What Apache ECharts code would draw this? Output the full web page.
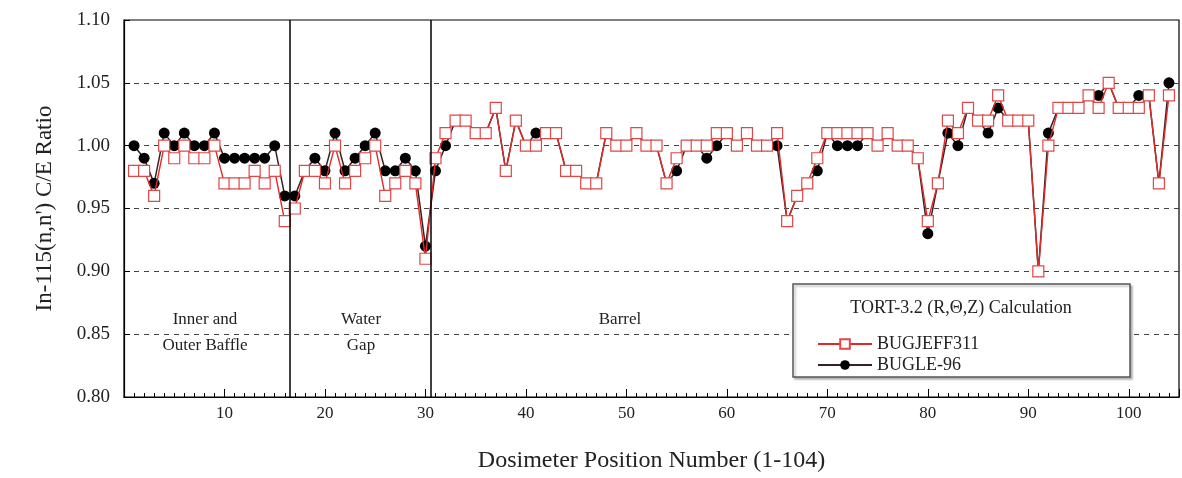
<!DOCTYPE html>
<html>
<head>
<meta charset="utf-8">
<script src="https://cdn.jsdelivr.net/npm/echarts@6/dist/echarts.min.js"></script>
<style>html,body{margin:0;padding:0;background:#fff}#c{width:1182px;height:478px}</style>
</head>
<body>
<div id="c"></div>
<script>
const positions = Array.from({length: 104}, (_, i) => i + 1);
const bugjeff311 = [
  0.98,0.98,0.96,1.00,0.99,1.00,0.99,0.99,1.00,0.97,
  0.97,0.97,0.98,0.97,0.98,0.94,0.95,0.98,0.98,0.97,
  1.00,0.97,0.98,0.99,1.00,0.96,0.97,0.98,0.97,0.91,
  0.99,1.01,1.02,1.02,1.01,1.01,1.03,0.98,1.02,1.00,
  1.00,1.01,1.01,0.98,0.98,0.97,0.97,1.01,1.00,1.00,
  1.01,1.00,1.00,0.97,0.99,1.00,1.00,1.00,1.01,1.01,
  1.00,1.01,1.00,1.00,1.01,0.94,0.96,0.97,0.99,1.01,
  1.01,1.01,1.01,1.01,1.00,1.01,1.00,1.00,0.99,0.94,
  0.97,1.02,1.01,1.03,1.02,1.02,1.04,1.02,1.02,1.02,
  0.90,1.00,1.03,1.03,1.03,1.04,1.03,1.05,1.03,1.03,
  1.03,1.04,0.97,1.04
];
const bugle96 = [
  1.00,0.99,0.97,1.01,1.00,1.01,1.00,1.00,1.01,0.99,
  0.99,0.99,0.99,0.99,1.00,0.96,0.96,0.98,0.99,0.98,
  1.01,0.98,0.99,1.00,1.01,0.98,0.98,0.99,0.98,0.92,
  0.98,1.00,1.02,1.02,1.01,1.01,1.03,0.98,1.02,1.00,
  1.01,1.01,1.01,0.98,0.98,0.97,0.97,1.01,1.00,1.00,
  1.01,1.00,1.00,0.97,0.98,1.00,1.00,0.99,1.00,1.01,
  1.00,1.01,1.00,1.00,1.00,0.94,0.96,0.97,0.98,1.01,
  1.00,1.00,1.00,1.01,1.00,1.01,1.00,1.00,0.99,0.93,
  0.97,1.01,1.00,1.03,1.02,1.01,1.03,1.02,1.02,1.02,
  0.90,1.01,1.03,1.03,1.03,1.04,1.04,1.05,1.03,1.03,
  1.04,1.04,0.97,1.05
];
const regionDividers = [16.5, 30.5];
const seriesNames = ['BUGJEFF311', 'BUGLE-96'];
const legendTitle = 'TORT-3.2 (R,\u0398,Z) Calculation';

const F = 'Liberation Serif';
const chart = echarts.init(document.getElementById('c'));
chart.setOption({
  animation: false,
  backgroundColor: '#fff',
  grid: {left: 124, right: 3, top: 20, bottom: 81, show: true, borderColor: '#000', borderWidth: 1.2},
  xAxis: {
    type: 'value', min: 0, max: 105, interval: 10,
    name: 'Dosimeter Position Number (1-104)', nameLocation: 'middle', nameGap: 52,
    nameTextStyle: {fontFamily: F, fontSize: 24, color: '#222'},
    axisLine: {lineStyle: {color: '#000', width: 1.2}},
    axisTick: {inside: true, length: 8, lineStyle: {color: '#000'}},
    minorTick: {show: true, splitNumber: 10, length: 4, lineStyle: {color: '#000'}},
    axisLabel: {fontFamily: F, fontSize: 17, color: '#222', margin: 8, showMaxLabel: false,
      formatter: v => (v === 0 || v > 100 ? '' : String(v))},
    splitLine: {show: false}
  },
  yAxis: {
    type: 'value', min: 0.8, max: 1.1, interval: 0.05,
    name: "In-115(n,n') C/E Ratio", nameLocation: 'middle', nameGap: 68, nameRotate: 90,
    nameTextStyle: {fontFamily: F, fontSize: 23, color: '#222'},
    axisLine: {show: true, lineStyle: {color: '#000', width: 1.2}},
    axisTick: {show: true, inside: true, length: 6, lineStyle: {color: '#000'}},
    axisLabel: {fontFamily: F, fontSize: 19, color: '#222', margin: 14, formatter: v => v.toFixed(2)},
    splitLine: {show: true, showMinLine: false, showMaxLine: false,
      lineStyle: {type: [5, 5], color: '#444', width: 1}}
  },
  legend: {
    orient: 'vertical', left: 812, top: 330, itemGap: 3, itemWidth: 54, itemHeight: 12,
    data: seriesNames, z: 10,
    textStyle: {fontFamily: F, fontSize: 18, color: '#222'}
  },
  graphic: [
    {type: 'rect', shape: {x: 793, y: 284, width: 337, height: 93}, z: 3,
      style: {fill: '#fff', stroke: '#555', lineWidth: 1.5, shadowColor: 'rgba(0,0,0,0.25)', shadowOffsetX: 2, shadowOffsetY: 2, shadowBlur: 2}},
    {type: 'text', x: 961, y: 308, z: 11, style: {text: legendTitle, font: '18px "Liberation Serif"', fill: '#222', align: 'center', verticalAlign: 'middle'}},
    {type: 'text', x: 205, y: 333, z: 11, style: {text: 'Inner and\nOuter Baffle', font: '17px "Liberation Serif"', fill: '#222', align: 'center', verticalAlign: 'middle', lineHeight: 26}},
    {type: 'text', x: 361, y: 333, z: 11, style: {text: 'Water\nGap', font: '17px "Liberation Serif"', fill: '#222', align: 'center', verticalAlign: 'middle', lineHeight: 26}},
    {type: 'text', x: 620, y: 320, z: 11, style: {text: 'Barrel', font: '17px "Liberation Serif"', fill: '#222', align: 'center', verticalAlign: 'middle'}}
  ],
  series: [
    {
      name: seriesNames[1], type: 'line', z: 2,
      data: positions.map((p, i) => [p, bugle96[i]]),
      symbol: 'circle', symbolSize: 11,
      itemStyle: {color: '#000'},
      lineStyle: {color: '#3a2020', width: 1.5},
      markLine: {
        silent: true, symbol: 'none', label: {show: false},
        lineStyle: {color: '#000', type: 'solid', width: 1.5},
        data: regionDividers.map(v => ({xAxis: v}))
      }
    },
    {
      name: seriesNames[0], type: 'line', z: 3,
      data: positions.map((p, i) => [p, bugjeff311[i]]),
      symbol: 'rect', symbolSize: 11,
      itemStyle: {color: '#fff', borderColor: '#e04848', borderWidth: 1.2},
      lineStyle: {color: '#e02828', width: 1.4}
    }
  ]
});
</script>
</body>
</html>
